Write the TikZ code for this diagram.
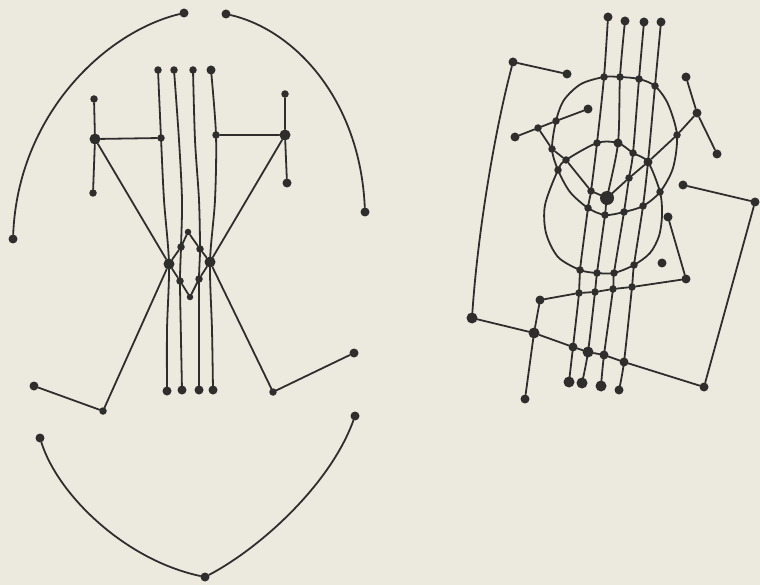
\documentclass[tikz,border=0pt]{standalone}
\usepackage{xcolor}
\definecolor{paper}{RGB}{236,234,223}
\definecolor{ink}{RGB}{48,46,45}
\begin{document}
\begin{tikzpicture}[x=1pt,y=-1pt,
  ln/.style={line width=1.8pt, draw=ink, line cap=round, line join=round},
  dot/.style={circle, fill=ink, inner sep=0pt, minimum size=7.5pt},
  dots/.style={dot, minimum size=6.5pt},
  dotm/.style={dot, minimum size=9pt},
  dotb/.style={dot, minimum size=11pt},
  doth/.style={dot, minimum size=14pt}]
\fill[paper] (0,0) rectangle (760,585);
\useasboundingbox (0,0) rectangle (760,585);

% ---------------- left figure ----------------
\node[dotm] (LT1) at (184,13) {};
\node[dotm] (LT2) at (226,14) {};
\node[dotm] (LT3) at (13,239) {};
\node[dotm] (LT4) at (365,212) {};
\node[dot] (LV1t) at (158,70) {};
\node[dot] (LV2t) at (174,70) {};
\node[dot] (LV3t) at (193,70) {};
\node[dotm] (LV4t) at (211,70) {};
\node[dotm] (LV1b) at (167,391) {};
\node[dotm] (LV2b) at (182,390) {};
\node[dotm] (LV3b) at (199,390) {};
\node[dotm] (LV4b) at (213,390) {};
\node[dot] (LH1) at (94,99) {};
\node[dotb] (LHub) at (95,139) {};
\node[dot] (LH2) at (93,193) {};
\node[dot] (RH1) at (285,94) {};
\node[dotb] (RHub) at (285,135) {};
\node[dotm] (RH2) at (287,183) {};
\node[dot] (LHn) at (161,138) {};
\node[dot] (RHn) at (216,135) {};
\node[dotb] (Lbig) at (169,264) {};
\node[dotb] (Rbig) at (210,262) {};
\node[dots] (Dtop) at (188,232) {};
\node[dot] (Dul) at (181,247) {};
\node[dot] (Dur) at (200,249) {};
\node[dot] (Dll) at (180,281) {};
\node[dot] (Dlr) at (199,279) {};
\node[dots] (Dbot) at (190,297) {};
\node[dot] (LL1) at (103,411) {};
\node[dotm] (LL2) at (34,386) {};
\node[dot] (RL1) at (273,392) {};
\node[dotm] (RL2) at (354,353) {};
\node[dotm] (B1) at (40,438) {};
\node[dotm] (B2) at (205,577) {};
\node[dotm] (B3) at (355,416) {};

\draw[ln] (LT1) .. controls (105,32) and (18,115) .. (LT3);
\draw[ln] (LT2) .. controls (295,30) and (360,100) .. (LT4);
\draw[ln] (B1) .. controls (58,495) and (125,560) .. (B2);
\draw[ln] (B2) .. controls (260,548) and (330,485) .. (B3);
\draw[ln] (LH1) -- (LHub) -- (LH2);
\draw[ln] (LHub) -- (LHn);
\draw[ln] (RH1) -- (RHub) -- (RH2);
\draw[ln] (RHn) -- (RHub);
\draw[ln] (LHub) -- (Lbig) -- (LL1) -- (LL2);
\draw[ln] (RHub) -- (Rbig) -- (RL1) -- (RL2);
\draw[ln] (Dtop) -- (Dul) -- (Lbig) -- (Dll) -- (Dbot) -- (Dlr) -- (Rbig) -- (Dur) -- (Dtop);
\draw[ln] plot[smooth] coordinates {(LV1t.center) (LHn.center) (164,200) (Lbig.center) (167,330) (LV1b.center)};
\draw[ln] plot[smooth] coordinates {(LV2t.center) (179,140) (182,200) (Dul.center) (Dll.center) (181,340) (LV2b.center)};
\draw[ln] plot[smooth] coordinates {(LV3t.center) (195,140) (199,200) (Dur.center) (Dlr.center) (199,340) (LV3b.center)};
\draw[ln] plot[smooth] coordinates {(LV4t.center) (RHn.center) (215,200) (Rbig.center) (212,330) (LV4b.center)};

% ---------------- right figure ----------------
\node[dotm] (t1) at (608,17) {};
\node[dotm] (t2) at (625,21) {};
\node[dotm] (t3) at (644,22) {};
\node[dotm] (t4) at (661,22) {};
\node[dot] (a1) at (604,77) {};
\node[dot] (a2) at (620,77) {};
\node[dot] (a3) at (639,79) {};
\node[dot] (a4) at (655,86) {};
\node[dot] (b1) at (597,143) {};
\node[dotm] (b2) at (618,143) {};
\node[dot] (b3) at (633,153) {};
\node[dotm] (b4) at (648,162) {};
\node[dot] (c1) at (591,191) {};
\node[doth] (big) at (607,198) {};
\node[dot] (c3) at (629,178) {};
\node[dot] (d1) at (588,208) {};
\node[dot] (d2) at (605,215) {};
\node[dot] (d3) at (624,212) {};
\node[dot] (d4) at (643,206) {};
\node[dot] (e1) at (580,270) {};
\node[dot] (e2) at (597,273) {};
\node[dot] (e3) at (614,273) {};
\node[dot] (e4) at (634,265) {};
\node[dot] (f1) at (579,293) {};
\node[dot] (f2) at (595,292) {};
\node[dot] (f3) at (613,289) {};
\node[dot] (f4) at (632,287) {};
\node[dotm] (g1) at (573,347) {};
\node[dotb] (g2) at (588,352) {};
\node[dotm] (g3) at (604,355) {};
\node[dotm] (g4) at (624,362) {};
\node[dotb] (h1) at (569,382) {};
\node[dotb] (h2) at (582,383) {};
\node[dotb] (h3) at (601,386) {};
\node[dotm] (h4) at (619,390) {};
\node[dotm] (p1) at (515,137) {};
\node[dot] (p2) at (538,128) {};
\node[dot] (p3) at (556,121) {};
\node[dotm] (p4) at (588,109) {};
\node[dot] (q1) at (552,149) {};
\node[dot] (q2) at (566,160) {};
\node[dot] (x1) at (558,170) {};
\node[dot] (x2) at (660,192) {};
\node[dot] (r1) at (677,135) {};
\node[dotm] (r2) at (697,113) {};
\node[dotm] (r3) at (686,77) {};
\node[dotm] (r4) at (717,154) {};
\node[dotm] (s1) at (683,185) {};
\node[dotm] (s2) at (755,202) {};
\node[dotm] (s3) at (704,387) {};
\node[dotm] (k1) at (513,62) {};
\node[dotm] (k2) at (567,74) {};
\node[dotb] (k3) at (472,318) {};
\node[dotb] (m1) at (534,333) {};
\node[dotm] (m2) at (540,300) {};
\node[dotm] (m3) at (525,399) {};
\node[dotm] (n1) at (686,279) {};
\node[dotm] (n2) at (668,217) {};
\node[dotm] (iso) at (662,263) {};

% vertical strands
\draw[ln] plot[smooth] coordinates {(t1.center) (a1.center) (b1.center) (c1.center) (d1.center) (e1.center) (f1.center) (g1.center) (h1.center)};
\draw[ln] plot[smooth] coordinates {(t2.center) (a2.center) (b2.center) (big.center) (d2.center) (e2.center) (f2.center) (g2.center) (h2.center)};
\draw[ln] plot[smooth] coordinates {(t3.center) (a3.center) (b3.center) (c3.center) (d3.center) (e3.center) (f3.center) (g3.center) (h3.center)};
\draw[ln] plot[smooth] coordinates {(t4.center) (a4.center) (b4.center) (d4.center) (e4.center) (f4.center) (g4.center) (h4.center)};
% upper oval
\draw[ln] plot[smooth cycle] coordinates {(a1.center) (a2.center) (a3.center) (a4.center) (668,104) (r1.center) (673,168) (x2.center) (d4.center) (d3.center) (d2.center) (d1.center) (570,192) (x1.center) (q1.center) (p3.center) (564,100) (581,84)};
% lower oval
\draw[ln] plot[smooth cycle] coordinates {(q2.center) (b1.center) (b2.center) (b3.center) (b4.center) (x2.center) (662,215) (659,236) (650,253) (e4.center) (e3.center) (e2.center) (e1.center) (558,257) (546,233) (545,205) (x1.center)};
% V line
\draw[ln] (p2) -- (q1) -- (q2) -- (c1) -- (big) -- (c3) -- (b4) -- (r1) -- (r2);
\draw[ln] (p1) -- (p2) -- (p3) -- (p4);
\draw[ln] (r3) -- (r2) -- (r4);
% frame
\draw[ln] (k2) -- (k1);
\draw[ln] (k1) .. controls (495,130) and (478,230) .. (k3);
\draw[ln] (k3) -- (m1) -- (g1) -- (g2) -- (g3) -- (g4) -- (s3);
\draw[ln] (s3) -- (s2) -- (s1);
\draw[ln] (m2) -- (f1) -- (f2) -- (f3) -- (f4) -- (n1) -- (n2);
\draw[ln] (m2) -- (m1) -- (m3);
\end{tikzpicture}
\end{document}
